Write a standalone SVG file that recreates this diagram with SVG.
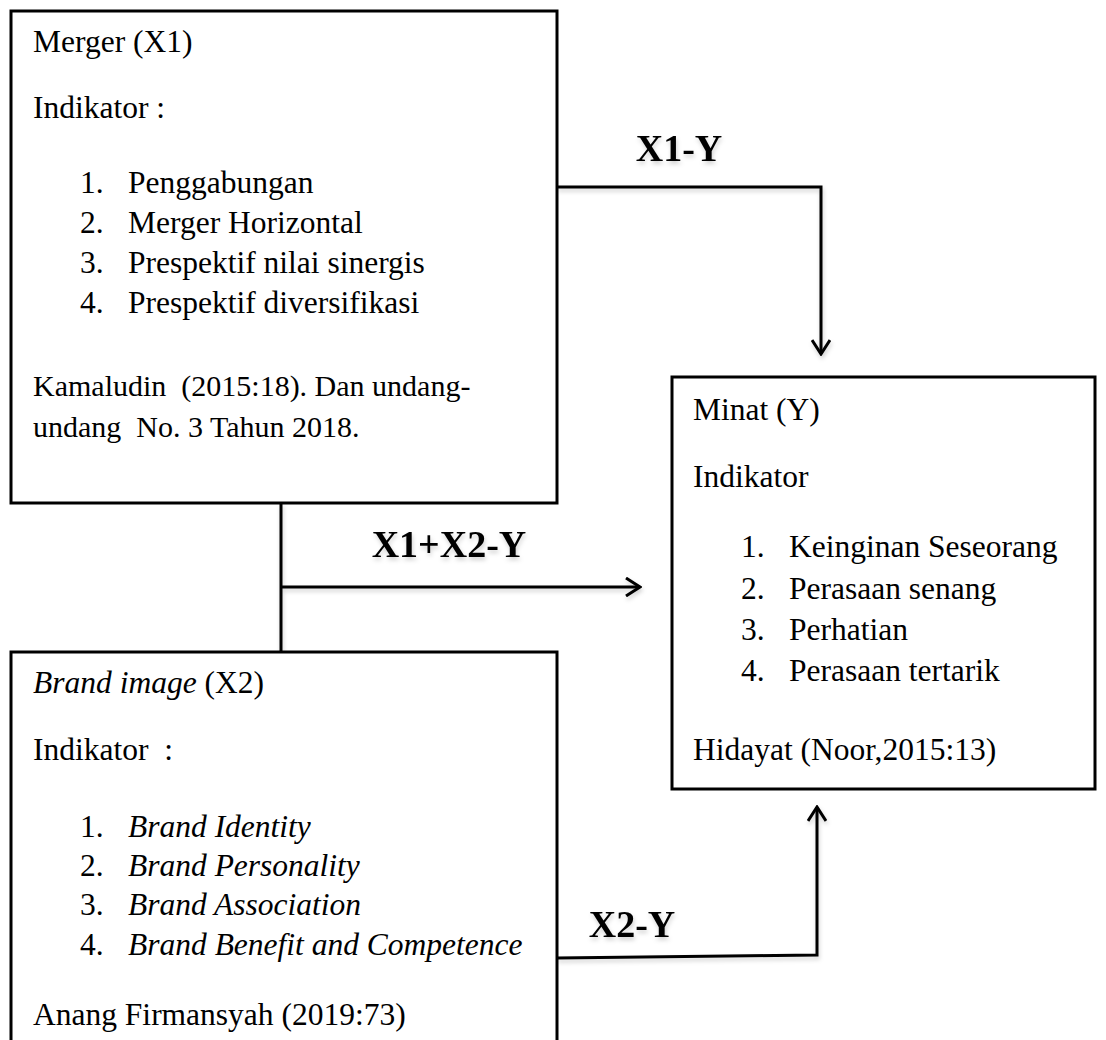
<svg xmlns="http://www.w3.org/2000/svg" width="1106" height="1040" viewBox="0 0 1106 1040">
<style>
.box{fill:#fff;stroke:#000;stroke-width:3}
.t{font-family:"Liberation Serif","Times New Roman",serif;font-size:31.5px;fill:#000}
.s{font-family:"Liberation Serif","Times New Roman",serif;font-size:30px;fill:#000}
.i{font-style:italic}
.lbl{font-family:"Liberation Serif","Times New Roman",serif;font-size:38px;font-weight:bold;fill:#000}
.ln{fill:none;stroke:#000;stroke-width:3}
</style>
<defs>
<marker id="arr" viewBox="0 0 20 20" refX="18" refY="10" markerWidth="20" markerHeight="20" markerUnits="userSpaceOnUse" orient="auto">
<path d="M4 1 L18 10 L4 19" fill="none" stroke="#000" stroke-width="3"/>
</marker>
<filter id="sh" x="-5%" y="-5%" width="110%" height="110%">
<feDropShadow dx="1" dy="3" stdDeviation="2" flood-color="#000" flood-opacity="0.18"/>
</filter>
</defs>
<rect width="1106" height="1040" fill="#fff"/>
<g id="connectors" filter="url(#sh)">
<polyline class="ln" points="557,187 821,187 821,354" marker-end="url(#arr)"/>
<line class="ln" x1="281" y1="503" x2="281" y2="652"/>
<line class="ln" x1="281" y1="587" x2="640" y2="587" marker-end="url(#arr)"/>
<polyline class="ln" points="557,958 817,955 817,807" marker-end="url(#arr)"/>
<text class="lbl" x="679" y="161" text-anchor="middle">X1-Y</text>
<text class="lbl" x="449" y="557" text-anchor="middle">X1+X2-Y</text>
<text class="lbl" x="632" y="937" text-anchor="middle">X2-Y</text>
</g>
<g id="merger">
<rect class="box" x="11" y="11" width="546" height="492"/>
<text class="t" x="33" y="52">Merger (X1)</text>
<text class="t" x="33" y="118">Indikator :</text>
<text class="t" x="80" y="193">1.</text><text class="t" x="128" y="193">Penggabungan</text>
<text class="t" x="80" y="233">2.</text><text class="t" x="128" y="233">Merger Horizontal</text>
<text class="t" x="80" y="273">3.</text><text class="t" x="128" y="273">Prespektif nilai sinergis</text>
<text class="t" x="80" y="313">4.</text><text class="t" x="128" y="313">Prespektif diversifikasi</text>
<text class="s" x="33" y="396" xml:space="preserve">Kamaludin  (2015:18). Dan undang-</text>
<text class="s" x="33" y="437" xml:space="preserve">undang  No. 3 Tahun 2018.</text>
</g>
<g id="brand-image">
<rect class="box" x="11" y="652" width="546" height="400"/>
<text class="t" x="33" y="693"><tspan class="i">Brand image</tspan> (X2)</text>
<text class="t" x="33" y="760" xml:space="preserve">Indikator  :</text>
<text class="t" x="80" y="837">1.</text><text class="t i" x="128" y="837">Brand Identity</text>
<text class="t" x="80" y="876">2.</text><text class="t i" x="128" y="876">Brand Personality</text>
<text class="t" x="80" y="915">3.</text><text class="t i" x="128" y="915">Brand Association</text>
<text class="t" x="80" y="955">4.</text><text class="t i" x="128" y="955">Brand Benefit and Competence</text>
<text class="t" x="33" y="1025">Anang Firmansyah (2019:73)</text>
</g>
<g id="minat">
<rect class="box" x="672" y="377" width="423" height="412"/>
<text class="t" x="693" y="420">Minat (Y)</text>
<text class="t" x="693" y="487">Indikator</text>
<text class="t" x="741" y="557">1.</text><text class="t" x="789" y="557">Keinginan Seseorang</text>
<text class="t" x="741" y="599">2.</text><text class="t" x="789" y="599">Perasaan senang</text>
<text class="t" x="741" y="640">3.</text><text class="t" x="789" y="640">Perhatian</text>
<text class="t" x="741" y="681">4.</text><text class="t" x="789" y="681">Perasaan tertarik</text>
<text class="t" x="693" y="760">Hidayat (Noor,2015:13)</text>
</g>
</svg>
